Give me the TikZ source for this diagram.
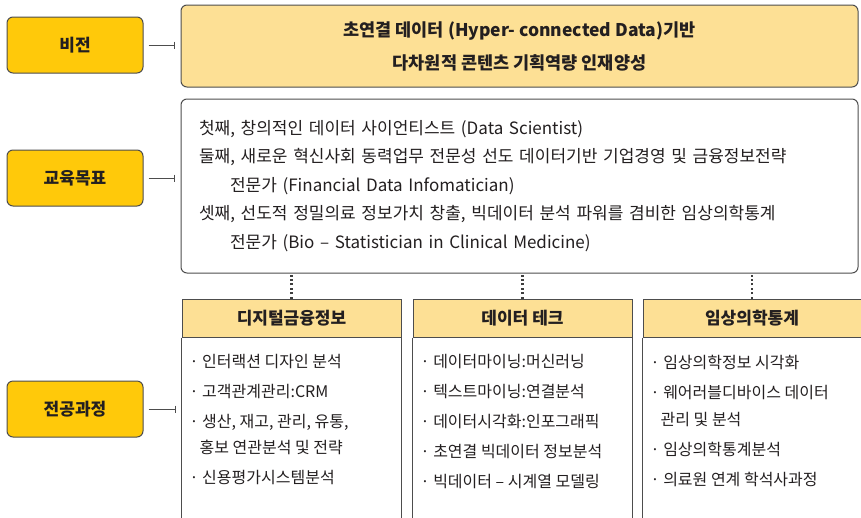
\documentclass[tikz,border=0pt]{standalone}
\usepackage{fontspec}
\setmainfont{Noto Sans CJK KR}
\usetikzlibrary{positioning, arrows.meta}
\definecolor{labelyellow}{HTML}{FFC90A}
\definecolor{paleyellow}{HTML}{FDE095}
\definecolor{framegray}{HTML}{4D4D4D}
\definecolor{textdark}{HTML}{231F20}

\begin{document}
\begin{tikzpicture}[
    x=1pt, y=-1pt,
    sidebox/.style={rectangle, rounded corners=6pt, draw=framegray, line width=1pt, fill=labelyellow, minimum width=136pt, minimum height=56pt, text=textdark, font=\fontsize{17}{20}\selectfont\bfseries},
    bigbox/.style={rectangle, rounded corners=6pt, draw=framegray, line width=1pt, minimum width=677pt, text=textdark},
    headbox/.style={rectangle, draw=framegray, line width=1pt, fill=paleyellow, minimum height=38pt, text=textdark, font=\fontsize{17}{20}\selectfont\bfseries},
    itemlist/.style={anchor=north west, inner sep=0pt, align=left, text=textdark, font=\fontsize{16}{30}\selectfont},
    link/.style={-{Bar[width=7pt]}, line width=0.9pt, draw=framegray, shorten <=5pt, shorten >=6pt},
    dots/.style={line width=2.2pt, dash pattern=on 2pt off 2.4pt, draw=framegray!80!black},
    frame/.style={line width=1pt, draw=framegray}
]
\useasboundingbox (0,0) rectangle (861,517);
\clip (0,0) rectangle (861,517);

% Nodes
\node[sidebox] (vision) at (75,45) {비전};
\node[sidebox] (goal) at (75,178) {교육목표};
\node[sidebox] (course) at (75,409) {전공과정};

\node[bigbox, fill=paleyellow, minimum height=82pt, align=center, font=\fontsize{17.5}{33}\selectfont\bfseries] (visionbox) at (519.5,46)
    {초연결 데이터 (Hyper- connected Data)기반\\다차원적 콘텐츠 기획역량 인재양성};
\node[bigbox, fill=white, below=11pt of visionbox, minimum height=174pt, text width=641pt, inner xsep=18pt, align=left, font=\fontsize{17}{28.5}\selectfont] (goalbox)
    {첫째, 창의적인 데이터 사이언티스트 (Data Scientist)\\
     둘째, 새로운 혁신사회 동력업무 전문성 선도 데이터기반 기업경영 및 금융정보전략\\
     \hspace*{31pt}전문가 (Financial Data Infomatician)\\
     셋째, 선도적 정밀의료 정보가치 창출, 빅데이터 분석 파워를 겸비한 임상의학통계\\
     \hspace*{31pt}전문가 (Bio -- Statistician in Clinical Medicine)};

\node[headbox, minimum width=219pt] (head1) at (291.5,318) {디지털금융정보};
\node[headbox, minimum width=219pt, right=11pt of head1] (head2) {데이터 테크};
\node[headbox, minimum width=218pt, right=10pt of head2] (head3) {임상의학통계};

% Column frames
\foreach \h in {head1, head2, head3} {
  \draw[frame] (\h.south west) -- ++(0,200);
  \draw[frame] (\h.south east) -- ++(0,200);
}

% Lists
\node[itemlist] (list1) at ([xshift=8pt, yshift=-17pt]head1.south west)
    {· 인터랙션 디자인 분석\\
     · 고객관계관리:CRM\\
     · 생산, 재고, 관리, 유통,\\[-4pt]
     \hspace*{10pt}홍보 연관분석 및 전략\\
     · 신용평가시스템분석};
\node[itemlist] (list2) at ([xshift=8pt, yshift=-17pt]head2.south west)
    {· 데이터마이닝:머신러닝\\
     · 텍스트마이닝:연결분석\\
     · 데이터시각화:인포그래픽\\
     · 초연결 빅데이터 정보분석\\
     · 빅데이터 -- 시계열 모델링};
\node[itemlist] (list3) at ([xshift=8pt, yshift=-17pt]head3.south west)
    {· 임상의학정보 시각화\\
     · 웨어러블디바이스 데이터\\[-3pt]
     \hspace*{10pt}관리 및 분석\\
     · 임상의학통계분석\\
     · 의료원 연계 학석사과정};

% Connectors
\draw[link] (vision.east) -- (vision.east -| visionbox.west);
\draw[link] (goal.east) -- (goal.east -| goalbox.west);
\draw[link] (course.east) -- (course.east -| head1.west);
\foreach \h in {head1, head2, head3}
  \draw[dots] (\h.north) -- (\h.north |- goalbox.south);

\end{tikzpicture}
\end{document}
